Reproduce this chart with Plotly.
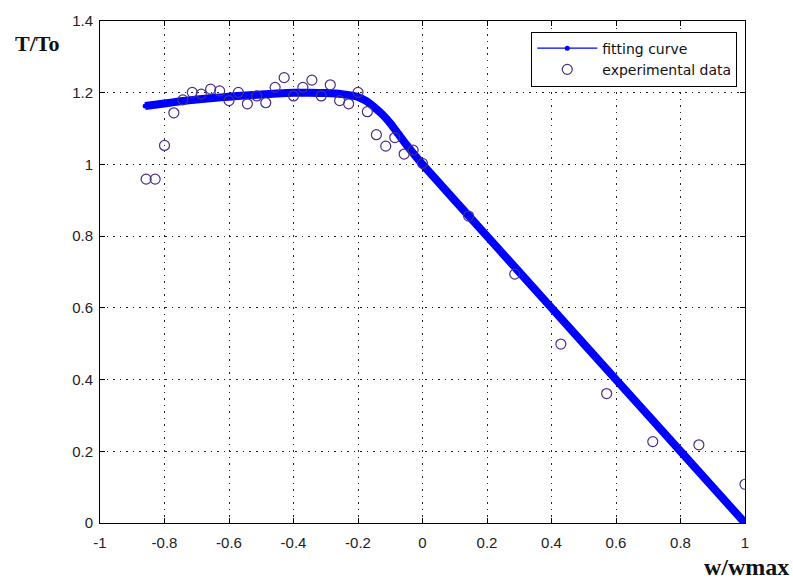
import plotly.graph_objects as go

# Fitting curve
fit_x = [-0.86, -0.8, -0.75, -0.7, -0.65, -0.6, -0.55, -0.5, -0.45, -0.4, -0.35, -0.3,
         -0.25, -0.2, -0.175, -0.15, -0.125, -0.1, -0.075, -0.05, -0.025, 0.0,
         0.2, 0.4, 0.6, 0.8, 1.0]
fit_y = [1.163, 1.170, 1.176, 1.181, 1.185, 1.189, 1.192, 1.195, 1.198, 1.200, 1.200, 1.199,
         1.196, 1.188, 1.177, 1.160, 1.140, 1.115, 1.085, 1.055, 1.027, 1.0,
         0.8, 0.6, 0.4, 0.2, 0.0]

exp_x = [-0.857, -0.829, -0.800, -0.771, -0.743, -0.714, -0.686, -0.657, -0.629, -0.600,
         -0.571, -0.543, -0.514, -0.486, -0.457, -0.429, -0.400, -0.371, -0.343, -0.314,
         -0.286, -0.257, -0.229, -0.200, -0.171, -0.143, -0.114, -0.086, -0.057, -0.029,
         0.000, 0.143, 0.286, 0.429, 0.571, 0.714, 0.857, 1.000]
exp_y = [0.959, 0.959, 1.053, 1.144, 1.180, 1.201, 1.196, 1.210, 1.205, 1.178,
         1.201, 1.169, 1.191, 1.172, 1.215, 1.242, 1.191, 1.215, 1.235, 1.191,
         1.222, 1.178, 1.169, 1.201, 1.147, 1.083, 1.051, 1.075, 1.029, 1.040,
         1.003, 0.856, 0.694, 0.499, 0.361, 0.227, 0.218, 0.108]

x_tickvals = [-1, -0.8, -0.6, -0.4, -0.2, 0, 0.2, 0.4, 0.6, 0.8, 1]
x_ticktext = ["-1", "-0.8", "-0.6", "-0.4", "-0.2", "0", "0.2", "0.4", "0.6", "0.8", "1"]
y_tickvals = [0, 0.2, 0.4, 0.6, 0.8, 1, 1.2, 1.4]
y_ticktext = ["0", "0.2", "0.4", "0.6", "0.8", "1", "1.2", "1.4"]

BLUE = "#0000ff"
PURPLE = "#4b2f7f"

fig = go.Figure()
# legend entry for fitting curve (thin line with dot), hidden under thick curve
fig.add_trace(go.Scatter(x=fit_x, y=fit_y, mode="lines+markers", name="fitting curve",
                         line=dict(color=BLUE, width=1.2),
                         marker=dict(color=BLUE, size=5)))
# thick drawn curve
fig.add_trace(go.Scatter(x=fit_x, y=fit_y, mode="lines", showlegend=False,
                         line=dict(color=BLUE, width=8, shape="spline", smoothing=0.6)))
fig.add_trace(go.Scatter(x=exp_x, y=exp_y, mode="markers", name="experimental data",
                         marker=dict(symbol="circle-open", size=10, color=PURPLE,
                                     line=dict(width=1.2, color=PURPLE))))

axis_common = dict(showline=True, linecolor="black", linewidth=1, mirror="ticks",
                   ticks="inside", ticklen=5, tickcolor="black",
                   showgrid=True, gridcolor="#222", gridwidth=1, griddash="1.5px,5px",
                   zeroline=False,
                   tickfont=dict(family="Liberation Sans, Arial", size=15, color="#222"))

fig.update_xaxes(range=[-1, 1], tickvals=x_tickvals, ticktext=x_ticktext,
                 ticklabelstandoff=6, **axis_common)
fig.update_yaxes(range=[0, 1.4], tickvals=y_tickvals, ticktext=y_ticktext,
                 ticklabelstandoff=3, **axis_common)

fig.update_layout(
    width=793, height=583,
    margin=dict(l=100, r=48, t=16, b=60),
    plot_bgcolor="white", paper_bgcolor="white",
    legend=dict(x=0.988, y=0.979, xanchor="right", yanchor="top",
                bgcolor="white", bordercolor="black", borderwidth=1,
                font=dict(family="DejaVu Sans, Verdana", size=14, color="#111"),
                itemwidth=60, tracegroupgap=0),
    annotations=[
        dict(text="<b>T/To</b>", xref="paper", yref="paper", x=-0.135, y=0.955,
             xanchor="left", yanchor="middle", showarrow=False,
             font=dict(family="Liberation Serif, Times New Roman", size=22, color="#111")),
        dict(text="<b>w/wmax</b>", xref="paper", yref="paper", x=1.072, y=-0.087,
             xanchor="right", yanchor="middle", showarrow=False,
             font=dict(family="Liberation Serif, Times New Roman", size=24, color="#111")),
    ],
)

fig.write_html("out.html")
